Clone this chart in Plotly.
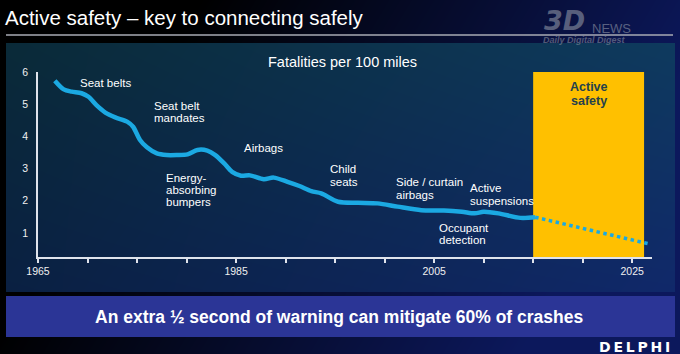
import zlib, struct, base64
import plotly.graph_objects as go

# ---------------- data ----------------
years = [1966.7, 1967.6, 1968.4, 1969.4, 1970.1, 1970.9, 1971.8, 1972.8, 1974.0, 1974.6,
         1975.3, 1976.0, 1977.0, 1978.0, 1979.0, 1980.1, 1981.1, 1982.1, 1982.9, 1983.8,
         1984.6, 1985.5, 1986.4, 1987.8, 1988.8, 1990.2, 1991.4, 1992.6, 1993.6, 1995.3,
         1997.3, 1999.3, 2001.3, 2003.7, 2006.0, 2007.8, 2009.1, 2010.0, 2011.5, 2013.7,
         2015.2]
fatalities = [5.73, 5.46, 5.39, 5.34, 5.23, 4.97, 4.74, 4.59, 4.46, 4.30,
              3.89, 3.66, 3.47, 3.42, 3.42, 3.44, 3.58, 3.56, 3.42, 3.16,
              2.90, 2.78, 2.79, 2.67, 2.72, 2.59, 2.46, 2.30, 2.23, 1.97,
              1.94, 1.92, 1.82, 1.71, 1.70, 1.66, 1.61, 1.66, 1.61, 1.47,
              1.49]
proj_years = [2015.2, 2026.6]
proj_values = [1.49, 0.67]
active_safety_span = [2015.0, 2026.2]
active_safety_top = 6.0

label_texts = ["Seat belts", "Seat belt|mandates", "Energy-|absorbing|bumpers",
               "Airbags", "Child|seats", "Side / curtain|airbags",
               "Occupant|detection", "Active|suspensions"]
label_x = [1969.0, 1976.5, 1977.7, 1985.6, 1994.3, 2000.9, 2005.3, 2008.4]
label_y = [5.66, 4.76, 2.34, 3.64, 2.79, 2.38, 0.97, 2.20]

x_ticks = [1965, 1985, 2005, 2025]
y_ticks = [1, 2, 3, 4, 5, 6]

title_text = "Active safety – key to connecting safely"
chart_title = "Fatalities per 100 miles"
banner_text = "An extra ½ second of warning can mitigate 60% of crashes"

W, H = 680, 354
Y_LO, Y_HI = 0.255, 6.0
PX_TOP, PX_BOT = 72, 257
UNIT_PX = (PX_BOT - PX_TOP) / (Y_HI - Y_LO)

# ---------------- background gradient image ----------------
def mix(c1, c2, t):
    return [c1[i] + (c2[i] - c1[i]) * t for i in range(3)]

TL, TR, BL, BR = (10, 42, 56), (14, 58, 94), (10, 32, 66), (16, 40, 106)
NAVY = (12, 24, 92)
raw = bytearray()
for y in range(H):
    raw.append(0)
    in_y = 43 <= y < 292
    v = (y - 43) / 249.0
    for x in range(W):
        if in_y and 6 <= x < 675:
            u = (x - 6) / 669.0
            c = mix(mix(TL, TR, u), mix(BL, BR, u), v)
        else:
            t = (x - 200) / 480.0 * 0.9 + y / 354.0 * 0.4
            t = 0.0 if t < 0 else (1.0 if t > 1 else t)
            c = [NAVY[i] * t for i in range(3)]
        raw += bytes(int(round(ch)) for ch in c)

def chunk(tag, data):
    return (struct.pack(">I", len(data)) + tag + data
            + struct.pack(">I", zlib.crc32(tag + data) & 0xffffffff))

png = (b"\x89PNG\r\n\x1a\n"
       + chunk(b"IHDR", struct.pack(">IIBBBBB", W, H, 8, 2, 0, 0, 0))
       + chunk(b"IDAT", zlib.compress(bytes(raw), 9))
       + chunk(b"IEND", b""))
bg_uri = "data:image/png;base64," + base64.b64encode(png).decode()

# ---------------- figure ----------------
LINE_COLOR = "#1ba9e2"
fig = go.Figure()

fig.add_trace(go.Scatter(x=years, y=fatalities, mode="lines",
                         line=dict(color=LINE_COLOR, width=4.5, shape="spline", smoothing=0.8),
                         hoverinfo="skip", showlegend=False))
fig.add_trace(go.Scatter(x=proj_years, y=proj_values, mode="lines",
                         line=dict(color=LINE_COLOR, width=3.5, dash="dot"),
                         hoverinfo="skip", showlegend=False))

fig.add_layout_image(source=bg_uri, xref="paper", yref="paper", x=0, y=1,
                     sizex=1, sizey=1, xanchor="left", yanchor="top",
                     sizing="stretch", layer="below")

# Active safety box
fig.add_shape(type="rect", xref="x", yref="y",
              x0=active_safety_span[0], x1=active_safety_span[1],
              y0=Y_LO, y1=active_safety_top,
              fillcolor="#ffc000", line=dict(width=0), layer="below")

# title separator line
fig.add_shape(type="line", xref="paper", yref="paper",
              x0=6 / W, x1=673 / W, y0=1 - 35 / H, y1=1 - 35 / H,
              line=dict(color="#a8abb4", width=1.5))
# bottom banner
fig.add_shape(type="rect", xref="paper", yref="paper",
              x0=6 / W, x1=675 / W, y0=1 - 337 / H, y1=1 - 296 / H,
              fillcolor="#2b3596", line=dict(width=0), layer="below")

ann = []
LINE_STEP = 12.3 / UNIT_PX  # one text line in data units
for t, x, yc in zip(label_texts, label_x, label_y):
    lines = t.split("|")
    n = len(lines)
    for i, ln in enumerate(lines):
        yy = yc + ((n - 1) / 2 - i) * LINE_STEP
        ann.append(dict(text=ln, x=x, y=yy, xref="x", yref="y", showarrow=False,
                        xanchor="left", yanchor="middle", align="left",
                        font=dict(family="Liberation Sans, Arial", size=11.5, color="#ffffff")))
for i, ln in enumerate(["Active", "safety"]):
    ann.append(dict(text="<b>" + ln + "</b>", x=sum(active_safety_span) / 2,
                    y=5.32 + (0.5 - i) * LINE_STEP * 1.1,
                    xref="x", yref="y", showarrow=False, xanchor="center", yanchor="middle",
                    font=dict(family="Liberation Sans, Arial", size=12.5, color="#25414c")))
ann.append(dict(text=chart_title, x=342 / W, y=1 - 62 / H, xref="paper", yref="paper",
                showarrow=False, xanchor="center", yanchor="middle",
                font=dict(family="Liberation Sans, Arial", size=14.5, color="#ffffff")))
ann.append(dict(text=title_text, x=3 / W, y=1 - 18 / H, xref="paper", yref="paper",
                showarrow=False, xanchor="left", yanchor="middle",
                font=dict(family="Liberation Sans, Arial", size=20.5, color="#ffffff")))
ann.append(dict(text="<b>" + banner_text + "</b>", x=339 / W, y=1 - 317 / H,
                xref="paper", yref="paper", showarrow=False,
                xanchor="center", yanchor="middle",
                font=dict(family="Liberation Sans, Arial", size=17.5, color="#ffffff")))
ann.append(dict(text="<b>D\u2009E\u2009L\u2009P\u2009H\u2009I</b>", x=672 / W, y=1 - 347 / H,
                xref="paper", yref="paper", showarrow=False,
                xanchor="right", yanchor="middle",
                font=dict(family="DejaVu Sans", size=14, color="#ffffff")))
# watermark
ann.append(dict(text="<b><i>3D</i></b>", x=542 / W, y=1 - 21 / H, xref="paper", yref="paper",
                showarrow=False, xanchor="left", yanchor="middle", opacity=0.55,
                font=dict(family="DejaVu Sans", size=27, color="#9aa0ad")))
ann.append(dict(text="NEWS", x=590 / W, y=1 - 28 / H, xref="paper", yref="paper",
                showarrow=False, xanchor="left", yanchor="middle", opacity=0.55,
                font=dict(family="Liberation Sans", size=13, color="#9aa0ad")))
ann.append(dict(text="<b><i>Daily Digital Digest</i></b>", x=541 / W, y=1 - 40 / H,
                xref="paper", yref="paper", showarrow=False, xanchor="left",
                yanchor="middle", opacity=0.5,
                font=dict(family="Liberation Sans", size=9, color="#9aa0ad")))

fig.update_layout(
    width=W, height=H, margin=dict(l=0, r=0, t=0, b=0, autoexpand=False),
    paper_bgcolor="#000000", plot_bgcolor="rgba(0,0,0,0)",
    showlegend=False, annotations=ann,
    xaxis=dict(domain=[38 / W, 652 / W], range=[1965, 2027], tickvals=x_ticks,
               automargin=False,
               showgrid=False, zeroline=False, showline=True, linecolor="#dfe3ec",
               linewidth=1.5, ticks="outside", ticklen=4, tickcolor="#dfe3ec", tickwidth=1.5,
               minor=dict(dtick=5, tick0=1965, ticks="outside", ticklen=4,
                          tickcolor="#dfe3ec", tickwidth=1.5, showgrid=False),
               tickfont=dict(family="Liberation Sans, Arial", size=10.5, color="#f0f0f0"),
               fixedrange=True),
    yaxis=dict(domain=[(H - PX_BOT) / H, (H - PX_TOP) / H], range=[Y_LO, Y_HI],
               tickvals=y_ticks, automargin=False,
               showgrid=False, zeroline=False, showline=True, linecolor="#dfe3ec",
               linewidth=1.5, ticks="", ticklabelstandoff=6,
               tickfont=dict(family="Liberation Sans, Arial", size=10.5, color="#f0f0f0"),
               fixedrange=True),
)

fig.write_html("out.html")
